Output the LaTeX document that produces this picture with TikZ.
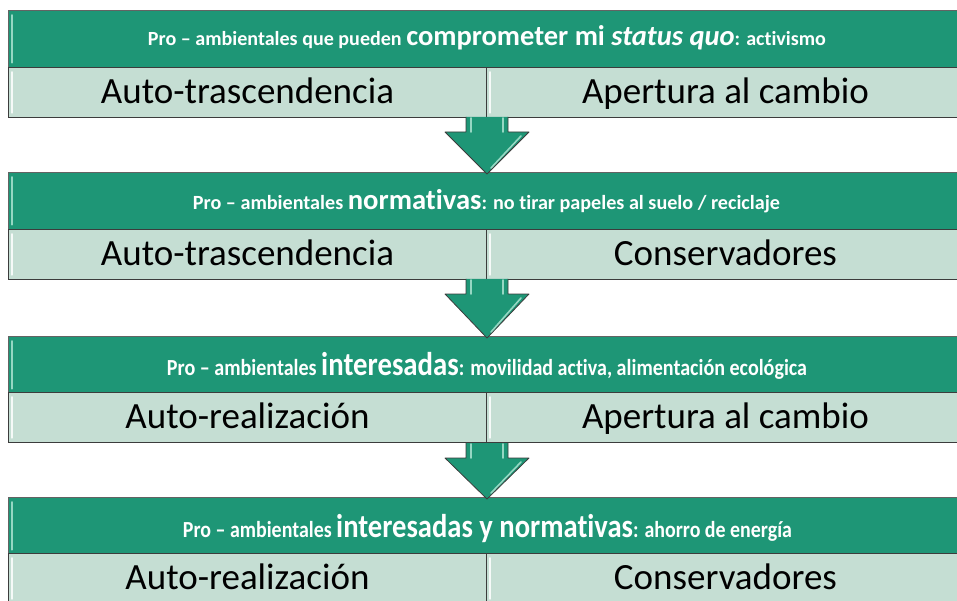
\documentclass[tikz,border=0pt]{standalone}
\usepackage{fontspec}
\setmainfont{Carlito}[Ligatures={NoCommon}]
\usetikzlibrary{calc}
\definecolor{hdr}{RGB}{30,150,118}
\definecolor{cellc}{RGB}{197,222,211}
\definecolor{edgec}{RGB}{60,60,60}
\definecolor{hilite}{RGB}{150,215,195}
\tikzset{
  hdrbox/.style={draw=edgec!80, line width=0.8pt, fill=hdr, minimum width=957pt, minimum height=57pt, anchor=north west, inner sep=0pt},
  hdrtext/.style={anchor=base, inner sep=0pt, text=white, font=\bfseries},
  cellbox/.style={draw=edgec, line width=0.9pt, fill=cellc, minimum width=478pt, minimum height=50pt, anchor=north west, inner sep=0pt, text height=27pt, text depth=5pt, font=\fontsize{37}{42}\selectfont},
  blockarrow/.style={draw=edgec, line width=0.8pt, fill=hdr, line join=round},
  hl/.style={draw=hilite, line width=1.6pt, line cap=round},
  hlw/.style={draw=white!85!cellc, line width=1.6pt, line cap=round}
}
\newcommand{\sm}{\fontsize{19}{22}\selectfont}
\newcommand{\bg}{\fontsize{27}{30}\selectfont}
\newcommand{\smb}{\fontsize{23}{26}\selectfont}
\newcommand{\bgb}{\fontsize{33}{36}\selectfont}
\begin{document}
\begin{tikzpicture}[x=1pt,y=-1pt]
\useasboundingbox (0,0) rectangle (957,601);
% row 1
\node[hdrbox] (h1) at (8,10) {};
\node[hdrtext] (t1) at (487,46) {\resizebox{678pt}{!}{\sm Pro – ambientales que pueden {\bg comprometer mi \textit{status quo}}: activismo}};
\node[cellbox] (a1) at (8,67) {Auto-trascendencia};
\node[cellbox] (b1) at (486,67) {Apertura al cambio};
% row 2
\node[hdrbox] (h2) at (8,172) {};
\node[hdrtext] (t2) at (486.5,210) {\resizebox{587pt}{!}{\sm Pro – ambientales {\bg normativas}: no tirar papeles al suelo / reciclaje}};
\node[cellbox] (a2) at (8,229) {Auto-trascendencia};
\node[cellbox] (b2) at (486,229) {Conservadores};
% row 3
\node[hdrbox] (h3) at (8,336) {};
\node[hdrtext] (t3) at (487,375) {\resizebox{640pt}{\height}{\smb Pro – ambientales {\bgb interesadas}: movilidad activa, alimentación ecológica}};
\node[cellbox] (a3) at (8,392) {Auto-realización};
\node[cellbox] (b3) at (486,392) {Apertura al cambio};
% row 4
\node[hdrbox] (h4) at (8,497) {};
\node[hdrtext] (t4) at (487.5,537) {\resizebox{609pt}{\height}{\smb Pro – ambientales {\bgb interesadas y normativas}: ahorro de energía}};
\node[cellbox] (a4) at (8,553) {Auto-realización};
\node[cellbox] (b4) at (486,553) {Conservadores};
% highlights
\foreach \n in {h1,h2,h3,h4}{
  \draw[hl] ($(\n.north west)+(4,5)$) -- ($(\n.south west)+(4,-5)$);
}
\foreach \n in {a1,a2,a3,a4,b1,b2,b3,b4}{
  \draw[hlw] ($(\n.north west)+(4,5)$) -- ($(\n.south west)+(4,-5)$);
}
% arrows
\foreach \r/\top/\nxt in {a1/117/h2, a2/279/h3, a3/443/h4}{
  \coordinate (t) at ($(487,0)!(\nxt.north)!(487,1)$);
  \draw[blockarrow] (466,\top) -- (466,\top+15) -- (445,\top+15) -- ($(t)+(0,2)$) -- (529,\top+15) -- (508,\top+15) -- (508,\top);
  \draw[hl] (471,\top+1) -- (471,\top+15);
  \draw[hl] (503,\top+1) -- (503,\top+15);
  \draw[hl] (521,\top+19) -- ($(t)+(4,-4)$);
}
\end{tikzpicture}
\end{document}
